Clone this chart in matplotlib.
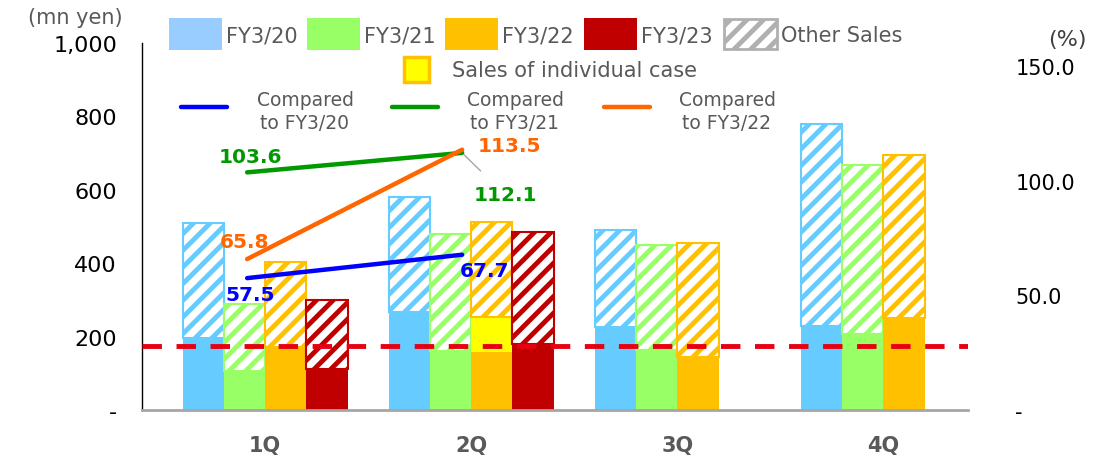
import numpy as np
import matplotlib
matplotlib.use('Agg')
import matplotlib.pyplot as plt
from matplotlib.patches import Rectangle
from matplotlib.lines import Line2D

## data
quarters = ['1Q', '2Q', '3Q', '4Q']
years = ['FY3/20', 'FY3/21', 'FY3/22', 'FY3/23']

# total sales per quarter (mn yen)
fy20_total = [509, 581, 491, 779]
fy21_total = [289, 480, 450, 668]
fy22_total = [404, 513, 455, 696]
fy23_total = [300, 484]

# solid part of each bar (mn yen), hatched part = other sales
fy20_base = [195, 266, 227, 230]
fy21_base = [106, 162, 164, 207]
fy22_base = [171, 157, 145, 251]
fy23_base = [112, 180]

# sales of individual case (yellow), only in FY3/22 2Q
fy22_indiv = [0, 97, 0, 0]

# ratios (%)
vs_fy20 = [57.5, 67.7]
vs_fy21 = [103.6, 112.1]
vs_fy22 = [65.8, 113.5]

threshold = 174

colors = ['#66CCFF', '#99FF66', '#FFC000', '#C00000']
legend_colors = ['#99CCFF', '#99FF66', '#FFC000', '#C00000']
totals = [fy20_total, fy21_total, fy22_total, fy23_total]
bases = [fy20_base, fy21_base, fy22_base, fy23_base]
gray = '#595959'

plt.rcParams['hatch.linewidth'] = 3.5
plt.rcParams['font.family'] = 'DejaVu Sans'

W, H = 1115, 464
fig = plt.figure(figsize=(W / 100, H / 100), dpi=100)
ax = fig.add_axes([142 / W, 1 - 411 / H, (968 - 142) / W, (411 - 44) / H])

bw = 0.2
for i in range(4):
    n = len(totals[i])
    x = np.arange(n) + (i - 1.5) * bw
    base = np.array(bases[i], dtype=float)
    tot = np.array(totals[i], dtype=float)
    extra = np.array(fy22_indiv[:n], dtype=float) if i == 2 else np.zeros(n)
    ax.bar(x, base, bw, color=colors[i], linewidth=0, zorder=1)
    if i == 2:
        ax.bar(x, extra, bw, bottom=base, color='#FFFF00', linewidth=0, zorder=1)
    ax.bar(x, tot - base - extra, bw, bottom=base + extra, color='white',
           edgecolor=colors[i], hatch='//', linewidth=1.5, zorder=1)

ax.axhline(threshold, color='#E60012', lw=3.5, ls=(0, (4, 3)), zorder=3)

ax.set_xlim(-0.597, 3.41)
ax.set_ylim(0, 1000)
ax.set_yticks([0, 200, 400, 600, 800, 1000])
ax.set_yticklabels(['-', '200', '400', '600', '800', '1,000'], fontsize=16)
ax.tick_params(axis='y', length=0, pad=18)
ax.set_xticks(range(4))
ax.set_xticklabels(quarters, fontsize=15, fontweight='bold', color=gray)
ax.tick_params(axis='x', length=0, pad=18)
for s in ['top', 'right']:
    ax.spines[s].set_visible(False)
ax.spines['bottom'].set_color('#A6A6A6')
ax.spines['bottom'].set_linewidth(2)
ax.spines['left'].set_linewidth(1)

# ratio lines on secondary axis
ax2 = ax.twinx()
ax2.set_ylim(0, 160)
ax2.set_yticks([0, 50, 100, 150])
ax2.set_yticklabels(['-', '50.0', '100.0', '150.0'], fontsize=15)
ax2.tick_params(axis='y', length=0, pad=34)
for s in ax2.spines.values():
    s.set_visible(False)

lx = np.array([0, 1]) - np.array([0.087, 0.044])
line_cols = ['#0000FF', '#009900', '#FF6600']
ax2.plot(lx, vs_fy20, color=line_cols[0], lw=3.2, solid_capstyle='round')
ax2.plot(lx, vs_fy21, color=line_cols[1], lw=3.2, solid_capstyle='round')
ax2.plot(lx, vs_fy22, color=line_cols[2], lw=3.2, solid_capstyle='round')

lbl = dict(textcoords='offset pixels', ha='center', va='center', fontsize=14.5, fontweight='bold')
ax2.annotate(f'{vs_fy20[0]}', (lx[0], vs_fy20[0]), xytext=(3, -16), color=line_cols[0], **lbl)
ax2.annotate(f'{vs_fy20[1]}', (lx[1], vs_fy20[1]), xytext=(22, -16), color=line_cols[0], **lbl)
ax2.annotate(f'{vs_fy21[0]}', (lx[0], vs_fy21[0]), xytext=(3, 16), color=line_cols[1], **lbl)
ax2.annotate(f'{vs_fy21[1]}', (lx[1], vs_fy21[1]), xytext=(43, -42), color=line_cols[1],
             arrowprops=dict(arrowstyle='-', color='#A6A6A6', lw=1, shrinkA=12, shrinkB=2), **lbl)
ax2.annotate(f'{vs_fy22[0]}', (lx[0], vs_fy22[0]), xytext=(-3, 18), color=line_cols[2], **lbl)
ax2.annotate(f'{vs_fy22[1]}', (lx[1], vs_fy22[1]), xytext=(47, 4), color=line_cols[2], **lbl)

# axis unit labels
fig.text(75 / W, 1 - 18 / H, '(mn yen)', ha='center', va='center', fontsize=15, color=gray)
fig.text(1067 / W, 1 - 40 / H, '(%)', ha='center', va='center', fontsize=16, color='#404040')

# legend drawn by hand
def fx(x):
    return x / W

def fy(y):
    return 1 - y / H

leg_x = [169, 307, 445, 584]
for i in range(4):
    fig.add_artist(Rectangle((fx(leg_x[i]), fy(51)), 53 / W, 32 / H, transform=fig.transFigure,
                             facecolor=legend_colors[i], edgecolor='none'))
    fig.text(fx(leg_x[i] + 57), fy(36), years[i], ha='left', va='center', fontsize=15, color=gray)
fig.add_artist(Rectangle((fx(724), fy(50)), 53 / W, 30 / H, transform=fig.transFigure,
                         facecolor='white', edgecolor='#B0B0B0', hatch='//', linewidth=2))
fig.text(fx(781), fy(36), 'Other Sales', ha='left', va='center', fontsize=15, color=gray)

fig.add_artist(Rectangle((fx(404), fy(83)), 25 / W, 25 / H, transform=fig.transFigure,
                         facecolor='#FFFF00', edgecolor='#FFC000', linewidth=2.5))
fig.text(fx(452), fy(71), 'Sales of individual case', ha='left', va='center', fontsize=15, color=gray)

line_leg_x = [181, 392, 604]
line_txt_x = [305, 515, 727]
for i, ref in enumerate(['FY3/20', 'FY3/21', 'FY3/22']):
    fig.add_artist(Line2D([fx(line_leg_x[i]), fx(line_leg_x[i] + 46)], [fy(108), fy(108)],
                          transform=fig.transFigure, color=line_cols[i], lw=3.2,
                          solid_capstyle='round'))
    fig.text(fx(line_txt_x[i]), fy(112), 'Compared\nto FY3/' + ref[-2:], ha='center', va='center',
             fontsize=13.5, color=gray, linespacing=1.25)

fig.savefig('out.png', dpi=100)
